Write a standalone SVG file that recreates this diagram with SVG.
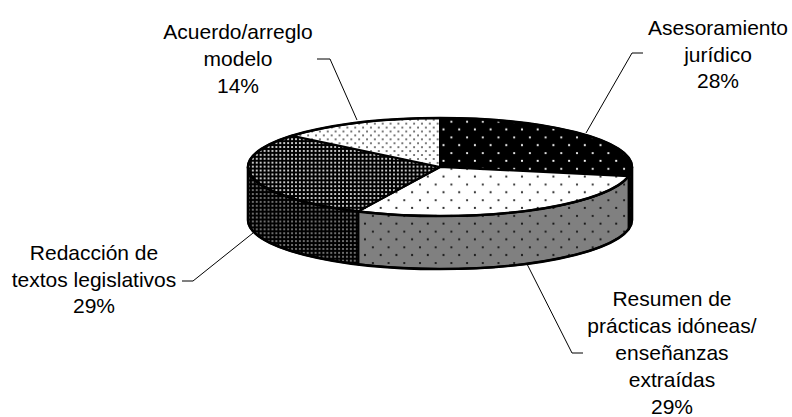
<svg xmlns="http://www.w3.org/2000/svg" width="792" height="417" viewBox="0 0 792 417">
<style>
  text { font-family: "Liberation Sans", Arial, sans-serif; font-size: 21px; fill: #000; text-anchor: middle; }
  .face { stroke: #000; stroke-width: 2; stroke-linejoin: round; }
  .outline { fill: none; stroke: #000; stroke-width: 2.6; stroke-linejoin: round; }
  .leader { fill: none; stroke: #000; stroke-width: 1; }
</style>
<defs>
  <pattern id="pAses" patternUnits="userSpaceOnUse" width="15.7" height="15.7">
    <rect width="15.7" height="15.7" fill="#000"/>
    <circle cx="3.9" cy="3.9" r="1.1" fill="#fff"/>
    <circle cx="11.8" cy="11.8" r="1.1" fill="#fff"/>
  </pattern>
  <pattern id="pAsesSide" patternUnits="userSpaceOnUse" width="15.7" height="15.7">
    <rect width="15.7" height="15.7" fill="#000"/>
    <circle cx="3.9" cy="3.9" r="1.1" fill="#808080"/>
    <circle cx="11.8" cy="11.8" r="1.1" fill="#808080"/>
  </pattern>
  <pattern id="pResTop" patternUnits="userSpaceOnUse" width="15.7" height="15.7">
    <rect width="15.7" height="15.7" fill="#fff"/>
    <circle cx="3.9" cy="3.9" r="1.1" fill="#222"/>
    <circle cx="11.8" cy="11.8" r="1.1" fill="#222"/>
  </pattern>
  <pattern id="pResSide" patternUnits="userSpaceOnUse" width="15.7" height="15.7">
    <rect width="15.7" height="15.7" fill="#808080"/>
    <circle cx="3.9" cy="3.9" r="1.1" fill="#111"/>
    <circle cx="11.8" cy="11.8" r="1.1" fill="#111"/>
  </pattern>
  <pattern id="pRedTop" patternUnits="userSpaceOnUse" width="3.92" height="3.92">
    <rect width="3.92" height="3.92" fill="#000"/>
    <rect x="1" y="1" width="1.96" height="1.96" fill="#c8c8c8"/>
  </pattern>
  <pattern id="pRedSide" patternUnits="userSpaceOnUse" width="3.92" height="3.92">
    <rect width="3.92" height="3.92" fill="#000"/>
    <rect x="1" y="1" width="1.96" height="1.96" fill="#6e6e6e"/>
  </pattern>
  <pattern id="pAcu" patternUnits="userSpaceOnUse" width="7.85" height="7.85">
    <rect width="7.85" height="7.85" fill="#fff"/>
    <circle cx="2" cy="2" r="0.95" fill="#444"/>
    <circle cx="5.92" cy="5.92" r="0.95" fill="#444"/>
  </pattern>
</defs>
<rect width="792" height="417" fill="#fff"/>

<!-- Asesoramiento jurídico 28% -->
<g id="slice-asesoramiento">
  <path class="face" fill="url(#pAsesSide)" d="M632,167 A192,49 0 0 1 628.6,176.18 L628.6,229.18 A192,49 0 0 0 632,220 Z"/>
  <path class="face" fill="url(#pAses)" d="M440,167 L440,118 A192,49 0 0 1 628.6,176.18 Z"/>
  <text x="718" y="35">Asesoramiento</text>
  <text x="718" y="62">jurídico</text>
  <text x="718" y="88">28%</text>
</g>

<!-- Resumen de prácticas idóneas 29% -->
<g id="slice-resumen">
  <path class="face" fill="url(#pResSide)" d="M628.6,176.18 A192,49 0 0 1 358.25,211.34 L358.25,264.34 A192,49 0 0 0 628.6,229.18 Z"/>
  <path class="face" fill="url(#pResTop)" d="M440,167 L628.6,176.18 A192,49 0 0 1 358.25,211.34 Z"/>
  <text x="672" y="306">Resumen de</text>
  <text x="672" y="333">prácticas idóneas/</text>
  <text x="672" y="360">enseñanzas</text>
  <text x="672" y="387">extraídas</text>
  <text x="672" y="414">29%</text>
</g>

<!-- Redacción de textos legislativos 29% -->
<g id="slice-redaccion">
  <path class="face" fill="url(#pRedSide)" d="M358.25,211.34 A192,49 0 0 1 248,167 L248,220 A192,49 0 0 0 358.25,264.34 Z"/>
  <path class="face" fill="url(#pRedTop)" d="M440,167 L358.25,211.34 A192,49 0 0 1 292.06,135.77 Z"/>
  <text x="94" y="260">Redacción de</text>
  <text x="94" y="286.5">textos legislativos</text>
  <text x="94" y="313">29%</text>
</g>

<!-- Acuerdo/arreglo modelo 14% -->
<g id="slice-acuerdo">
  <path class="face" fill="url(#pAcu)" d="M440,167 L292.06,135.77 A192,49 0 0 1 440,118 Z"/>
  <text x="238" y="39">Acuerdo/arreglo</text>
  <text x="238" y="66">modelo</text>
  <text x="238" y="93">14%</text>
</g>

<!-- silhouette -->
<g id="outline">
  <ellipse class="outline" cx="440" cy="167" rx="192" ry="49"/>
  <path class="outline" d="M248,167 L248,220 A192,49 0 0 0 632,220 L632,167"/>
</g>

<g id="connectors">
  <path class="leader" d="M643,53 L632,53 L586,133"/>
  <path class="leader" d="M527,264 L572,353 L583,353"/>
  <path class="leader" d="M182,281 L193,281 L253,233"/>
  <path class="leader" d="M317,59 L330,59 L357,120"/>
</g>
</svg>
